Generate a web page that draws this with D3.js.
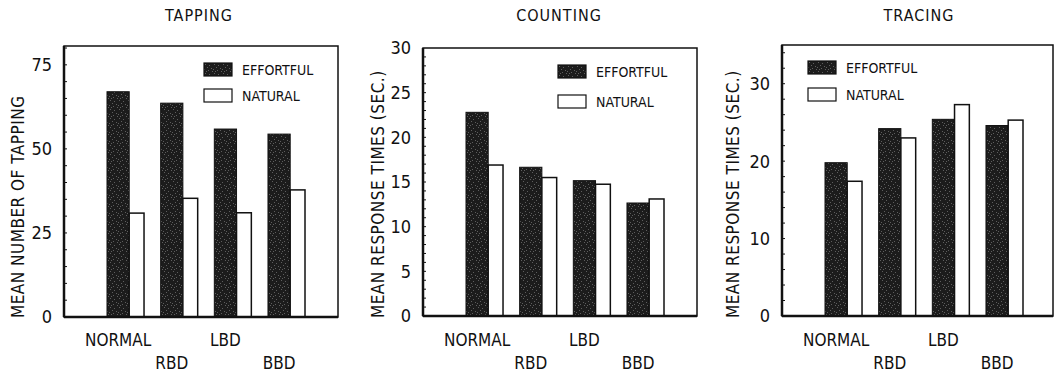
<!DOCTYPE html>
<html>
<head>
<meta charset="utf-8">
<script src="https://cdn.jsdelivr.net/npm/d3@7"></script>
<style>
  body { margin: 0; background: #fff; }
  text { font-family: "Liberation Sans Narrow", "DejaVu Sans Condensed", sans-serif; fill: #111; }
</style>
</head>
<body>
<script>
var groups = ['NORMAL', 'RBD', 'LBD', 'BBD'];
var seriesNames = ['EFFORTFUL', 'NATURAL'];

var tappingEffortful = [67, 63.6, 55.9, 54.4];
var tappingNatural = [30.9, 35.3, 31.0, 37.8];
var tappingTicks = [0, 25, 50, 75];

var countingEffortful = [22.8, 16.65, 15.15, 12.65];
var countingNatural = [16.9, 15.5, 14.75, 13.1];
var countingTicks = [0, 5, 10, 15, 20, 25, 30];

var tracingEffortful = [19.8, 24.2, 25.4, 24.6];
var tracingNatural = [17.4, 23.0, 27.3, 25.3];
var tracingTicks = [0, 10, 20, 30];

var width = 1056, height = 376;

var svg = d3.select('body').append('svg')
    .attr('width', width)
    .attr('height', height);

// speckled dark fill for the effortful bars
var pat = svg.append('defs').append('pattern')
    .attr('id', 'speckle')
    .attr('patternUnits', 'userSpaceOnUse')
    .attr('width', 9).attr('height', 9);
pat.append('rect').attr('width', 9).attr('height', 9).attr('fill', '#1c1c1c');
[[1, 1], [5, 2], [3, 4], [7, 5], [0, 6], [4, 7], [8, 8], [2, 8]].forEach(p => {
    pat.append('rect').attr('x', p[0]).attr('y', p[1])
        .attr('width', 1).attr('height', 1).attr('fill', '#5e5e5e');
});

var panels = [
    { title: 'TAPPING', ylabel: 'MEAN NUMBER OF TAPPING', eff: tappingEffortful, nat: tappingNatural,
      ticks: tappingTicks, max: 80.6, minor: 5, left: 64, right: 338, top: 46, bottom: 317,
      legX: 140, legY: [63, 89], titleX: 199, ylabX: 18 },
    { title: 'COUNTING', ylabel: 'MEAN RESPONSE TIMES (SEC.)', eff: countingEffortful, nat: countingNatural,
      ticks: countingTicks, max: 30, minor: 1, left: 423, right: 697, top: 48, bottom: 316,
      legX: 135, legY: [65, 95], titleX: 559, ylabX: 378 },
    { title: 'TRACING', ylabel: 'MEAN RESPONSE TIMES (SEC.)', eff: tracingEffortful, nat: tracingNatural,
      ticks: tracingTicks, max: 35, minor: 2, left: 782, right: 1053, top: 45, bottom: 316,
      legX: 26, legY: [61, 88], titleX: 919, ylabX: 733 }
];

panels.forEach(drawPanel);

function drawPanel(p) {
    var w = p.right - p.left;
    var g = svg.append('g').attr('transform', `translate(${p.left},0)`);

    var y = d3.scaleLinear().domain([0, p.max]).range([p.bottom, p.top]);
    var x = d3.scaleBand().domain(groups).range([43, 241]).paddingInner(0.31);
    var bw = x.bandwidth();
    var effW = bw * 0.6;

    // title
    svg.append('text')
        .attr('x', p.titleX).attr('y', 21)
        .attr('text-anchor', 'middle')
        .style('font-size', '16px')
        .style('letter-spacing', '1px')
        .text(p.title);

    // y label
    svg.append('text')
        .attr('transform', `translate(${p.ylabX + 6},318) rotate(-90)`)
        .attr('text-anchor', 'start')
        .style('font-size', '17px')
        .style('letter-spacing', '0.5px')
        .text(p.ylabel);

    // bars
    g.selectAll('rect.eff').data(p.eff).join('rect')
        .attr('class', 'eff')
        .attr('x', (d, i) => x(groups[i]))
        .attr('y', d => y(d))
        .attr('width', effW)
        .attr('height', d => y(0) - y(d))
        .attr('fill', 'url(#speckle)')
        .attr('stroke', '#111').attr('stroke-width', 1);

    g.selectAll('rect.nat').data(p.nat).join('rect')
        .attr('class', 'nat')
        .attr('x', (d, i) => x(groups[i]) + effW)
        .attr('y', d => y(d))
        .attr('width', bw - effW)
        .attr('height', d => y(0) - y(d))
        .attr('fill', '#fff')
        .attr('stroke', '#111').attr('stroke-width', 1.5);

    // frame
    g.append('rect')
        .attr('x', 0).attr('y', p.top)
        .attr('width', w).attr('height', p.bottom - p.top)
        .attr('fill', 'none').attr('stroke', '#111').attr('stroke-width', 1.5);
    g.append('line').attr('x1', 0).attr('x2', 0).attr('y1', p.top).attr('y2', p.bottom)
        .attr('stroke', '#111').attr('stroke-width', 2.5);
    g.append('line').attr('x1', 0).attr('x2', w).attr('y1', p.bottom).attr('y2', p.bottom)
        .attr('stroke', '#111').attr('stroke-width', 2.5);

    // minor ticks inside the left edge
    g.selectAll('line.minor').data(d3.range(0, p.max, p.minor)).join('line')
        .attr('class', 'minor')
        .attr('x1', 0).attr('x2', 3)
        .attr('y1', d => y(d)).attr('y2', d => y(d))
        .attr('stroke', '#111').attr('stroke-width', 1);

    // tick labels
    g.selectAll('text.tick').data(p.ticks).join('text')
        .attr('class', 'tick')
        .attr('x', -12).attr('y', d => y(d))
        .attr('dy', '0.36em')
        .attr('text-anchor', 'end')
        .style('font-size', '18px')
        .text(d => d);

    // group labels, staggered
    g.selectAll('text.grp').data(groups).join('text')
        .attr('class', 'grp')
        .attr('x', (d, i) => x(d) + bw * 0.3)
        .attr('y', (d, i) => i % 2 ? 369 : 346)
        .attr('text-anchor', 'middle')
        .style('font-size', '17px')
        .text(d => d);

    // legend
    var leg = g.selectAll('g.leg').data(seriesNames).join('g')
        .attr('class', 'leg')
        .attr('transform', (d, i) => `translate(${p.legX},${p.legY[i]})`);
    leg.append('rect')
        .attr('width', 28).attr('height', 13)
        .attr('fill', (d, i) => i ? '#fff' : 'url(#speckle)')
        .attr('stroke', '#111').attr('stroke-width', 1.2);
    leg.append('text')
        .attr('x', 38).attr('y', 6.5).attr('dy', '0.36em')
        .style('font-size', '14px')
        .text(d => d);
}
</script>
</body>
</html>
